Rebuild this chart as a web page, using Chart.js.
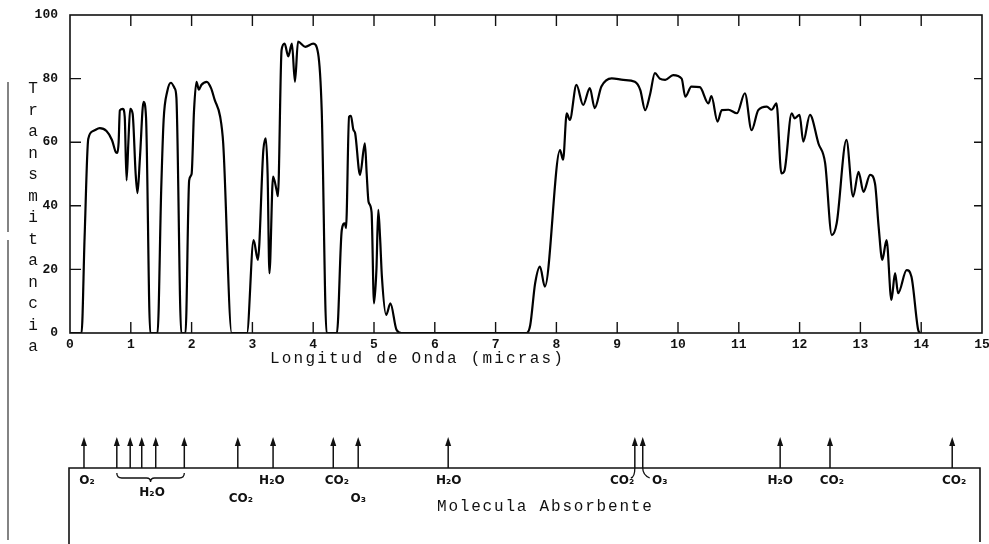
<!DOCTYPE html>
<html>
<head>
<meta charset="utf-8">
<script src="https://cdn.jsdelivr.net/npm/chart.js@4"></script>
<style>
  html, body { margin: 0; padding: 0; background: #fff; }
  #wrap { width: 989px; height: 544px; position: relative; }
</style>
</head>
<body>
<div id="wrap"><canvas id="chart"></canvas></div>
<script>
// longitud de onda (micras) y transmitancia (%)
const wavelength = [
  0, 0.19, 0.24, 0.30, 0.38, 0.49, 0.60, 0.69, 0.75, 0.78, 0.80, 0.82, 0.87, 0.90, 0.93, 0.96, 0.99, 1.03, 1.08, 1.11,
  1.15, 1.21, 1.25, 1.32, 1.44, 1.50, 1.54, 1.60, 1.66, 1.72, 1.75, 1.83, 1.90, 1.96, 2.00, 2.04, 2.08, 2.12, 2.16, 2.25,
  2.32, 2.38, 2.47, 2.52, 2.66, 2.91, 3.02, 3.09, 3.18, 3.22, 3.25, 3.28, 3.34, 3.40, 3.42, 3.48, 3.53, 3.59, 3.65, 3.70,
  3.75, 3.87, 4.00, 4.08, 4.14, 4.22, 4.39, 4.47, 4.52, 4.54, 4.59, 4.62, 4.66, 4.69, 4.77, 4.85, 4.88, 4.91, 4.96, 5.00,
  5.04, 5.07, 5.10, 5.13, 5.20, 5.27, 5.37, 5.45, 7.51, 7.57, 7.65, 7.73, 7.81, 8.06, 8.11, 8.17, 8.22, 8.33, 8.44, 8.55,
  8.63, 8.74, 8.91, 9.10, 9.29, 9.38, 9.46, 9.54, 9.62, 9.70, 9.79, 9.92, 10.06, 10.12, 10.22, 10.36, 10.50, 10.55, 10.65, 10.72,
  10.83, 10.97, 11.10, 11.21, 11.32, 11.46, 11.54, 11.62, 11.70, 11.75, 11.87, 11.92, 12.00, 12.06, 12.17, 12.31, 12.42, 12.53, 12.61, 12.77,
  12.88, 12.97, 13.05, 13.16, 13.24, 13.30, 13.36, 13.43, 13.51, 13.57, 13.62, 13.76, 13.84, 13.95, 13.98
];
const transmittance = [
  0, 0, 30, 61, 63.5, 64.4, 63.5, 60.7, 57, 56.6, 60, 70, 70.5, 68, 48, 60, 70.5, 69, 50, 44,
  55, 72.7, 68, 0, 0, 45, 67, 76, 78.7, 77, 74, 0, 0, 48, 50, 70, 79, 76.5, 78, 79,
  77, 73.3, 68, 59.6, 0, 0, 29.2, 23, 57.5, 61.2, 50, 18.8, 49.2, 44.7, 43, 89, 91, 87, 91, 79,
  91.6, 90, 91, 88, 70, 0, 0, 32.4, 34.5, 33, 68, 68.3, 64, 62.8, 49.7, 59.6, 50, 41.3, 38, 9.3,
  20, 38.7, 30, 17.7, 5.7, 9.3, 1, 0, 0, 2.5, 15.6, 20.9, 14.6, 57.5, 54.5, 69.1, 67, 78, 71.7, 77,
  70.7, 77.5, 80.1, 79.6, 79, 76.4, 70.1, 75, 81.7, 80, 79.6, 81.1, 80, 74.3, 77.5, 77.3, 72.2, 74.5, 66.5, 70.1,
  70.2, 69.1, 75.4, 63.8, 70.1, 71.2, 70.2, 72.2, 50.2, 51, 69.1, 67.5, 68.6, 60.2, 68.6, 59.6, 53.4, 30.8, 34.5, 60.7,
  42.9, 50.7, 44.4, 49.7, 47, 33.4, 23, 29.2, 10.4, 18.8, 12.5, 19.8, 17.7, 1, 0
];

// moleculas absorbentes (panel inferior)
const arrowAt = [0.23, 0.77, 0.99, 1.18, 1.41, 1.88, 2.76, 3.34, 4.33, 4.74, 6.22, 9.29, 9.42, 11.68, 12.5, 14.51];
const moleculeNames = ['O₂', 'H₂O', 'CO₂', 'H₂O', 'CO₂', 'O₃', 'H₂O', 'CO₂', 'O₃', 'H₂O', 'CO₂', 'CO₂'];
const moleculeAt = [0.28, 1.35, 2.81, 3.32, 4.39, 4.74, 6.23, 9.08, 9.70, 11.68, 12.53, 14.54];
const moleculeRow = [0, 1, 2, 0, 0, 2, 0, 0, 0, 0, 0, 0];

const xTicks = [0, 1, 2, 3, 4, 5, 6, 7, 8, 9, 10, 11, 12, 13, 14, 15];
const yTicks = [0, 20, 40, 60, 80, 100];

const mono = "'Liberation Mono', 'DejaVu Sans Mono', monospace";

const decor = {
  id: 'decor',
  afterDraw(chart) {
    const ctx = chart.ctx;
    const a = chart.chartArea;
    const xs = chart.scales.x, ys = chart.scales.y;
    ctx.save();
    ctx.strokeStyle = '#111';
    ctx.fillStyle = '#111';

    // marco
    ctx.lineWidth = 1.6;
    ctx.strokeRect(a.left, a.top, a.right - a.left, a.bottom - a.top);

    // marcas hacia dentro
    ctx.lineWidth = 1.4;
    ctx.beginPath();
    xTicks.slice(1, -1).forEach(v => {
      const px = xs.getPixelForValue(v);
      ctx.moveTo(px, a.bottom); ctx.lineTo(px, a.bottom - 11);
      ctx.moveTo(px, a.top); ctx.lineTo(px, a.top + 11);
    });
    yTicks.slice(1, -1).forEach(v => {
      const py = ys.getPixelForValue(v);
      ctx.moveTo(a.left, py); ctx.lineTo(a.left + 11, py);
      ctx.moveTo(a.right, py); ctx.lineTo(a.right - 8, py);
    });
    ctx.stroke();

    // titulo del eje y, letra por letra
    ctx.font = '16px ' + mono;
    ctx.textAlign = 'center';
    ctx.textBaseline = 'middle';
    'Transmitancia'.split('').forEach((ch, i) => ctx.fillText(ch, 33, 89 + i * 21.5));

    // titulo del eje x
    ctx.save();
    ctx.letterSpacing = '2.2px';
    ctx.textAlign = 'left';
    ctx.fillText('Longitud de Onda (micras)', 270, 359);
    ctx.restore();

    // panel inferior
    const boxTop = 468;
    ctx.lineWidth = 1.6;
    ctx.beginPath();
    ctx.moveTo(a.left - 1, 544); ctx.lineTo(a.left - 1, boxTop); ctx.lineTo(a.right - 2, boxTop); ctx.lineTo(a.right - 2, 542);
    ctx.stroke();

    ctx.lineWidth = 1.5;
    arrowAt.forEach(v => {
      const px = xs.getPixelForValue(v);
      ctx.beginPath();
      ctx.moveTo(px, boxTop); ctx.lineTo(px, 443);
      ctx.stroke();
      ctx.beginPath();
      ctx.moveTo(px, 437); ctx.lineTo(px - 3, 446); ctx.lineTo(px + 3, 446); ctx.closePath();
      ctx.fill();
    });

    ctx.font = 'bold 12px "DejaVu Sans", sans-serif';
    ctx.textAlign = 'center';
    const rowY = [481, 493, 499];
    moleculeNames.forEach((t, i) => {
      const px = xs.getPixelForValue(moleculeAt[i]);
      ctx.fillText(t, px, rowY[moleculeRow[i]]);
    });

    // llave bajo las flechas de H2O
    const b0 = xs.getPixelForValue(arrowAt[1]), b1 = xs.getPixelForValue(arrowAt[5]);
    const bm = (b0 + b1) / 2, by = 475;
    ctx.lineWidth = 1.3;
    ctx.beginPath();
    ctx.moveTo(b0, by - 2);
    ctx.quadraticCurveTo(b0, by + 3, b0 + 5, by + 3);
    ctx.lineTo(bm - 4, by + 3);
    ctx.quadraticCurveTo(bm, by + 3, bm, by + 7);
    ctx.quadraticCurveTo(bm, by + 3, bm + 4, by + 3);
    ctx.lineTo(b1 - 5, by + 3);
    ctx.quadraticCurveTo(b1, by + 3, b1, by - 2);
    ctx.stroke();

    // ganchos CO2 / O3
    const h0 = xs.getPixelForValue(arrowAt[11]), h1 = xs.getPixelForValue(arrowAt[12]);
    ctx.beginPath();
    ctx.moveTo(h0 - 4, 478); ctx.quadraticCurveTo(h0, 477, h0, boxTop);
    ctx.moveTo(h1, boxTop); ctx.quadraticCurveTo(h1, 475, h1 + 7, 478);
    ctx.stroke();

    ctx.font = '16px ' + mono;
    ctx.textAlign = 'left';
    ctx.save();
    ctx.letterSpacing = '1.8px';
    ctx.fillText('Molecula Absorbente', 437, 507);
    ctx.restore();

    // linea del margen izquierdo
    ctx.strokeStyle = '#333';
    ctx.lineWidth = 1.2;
    ctx.beginPath();
    ctx.moveTo(8, 82); ctx.lineTo(8, 232);
    ctx.moveTo(8, 240); ctx.lineTo(8, 540);
    ctx.stroke();

    ctx.restore();
  }
};

new Chart(document.getElementById('chart'), {
  type: 'line',
  data: {
    datasets: [{
      data: wavelength.map((w, i) => ({ x: w, y: transmittance[i] })),
      borderColor: '#000',
      borderWidth: 2.2,
      pointRadius: 0,
      cubicInterpolationMode: 'monotone',
      fill: false
    }]
  },
  options: {
    responsive: true,
    maintainAspectRatio: false,
    animation: false,
    layout: { padding: { left: 0, top: 15, right: 7, bottom: 181 } },
    plugins: { legend: { display: false }, tooltip: { enabled: false } },
    scales: {
      x: {
        type: 'linear', min: 0, max: 15,
        afterFit: s => { s.height = 30; s.paddingLeft = 0; s.paddingRight = 0; },
        afterBuildTicks: s => { s.ticks = xTicks.map(v => ({ value: v })); },
        grid: { display: false, drawTicks: false },
        border: { display: false },
        ticks: { padding: 4, color: '#111', font: { family: mono, weight: 'bold', size: 13 } }
      },
      y: {
        min: 0, max: 100,
        afterFit: s => { s.width = 70; s.paddingTop = 0; s.paddingBottom = 0; },
        afterBuildTicks: s => { s.ticks = yTicks.map(v => ({ value: v })); },
        grid: { display: false, drawTicks: false },
        border: { display: false },
        ticks: { padding: 12, color: '#111', font: { family: mono, weight: 'bold', size: 13 } }
      }
    }
  },
  plugins: [decor]
});
</script>
</body>
</html>
